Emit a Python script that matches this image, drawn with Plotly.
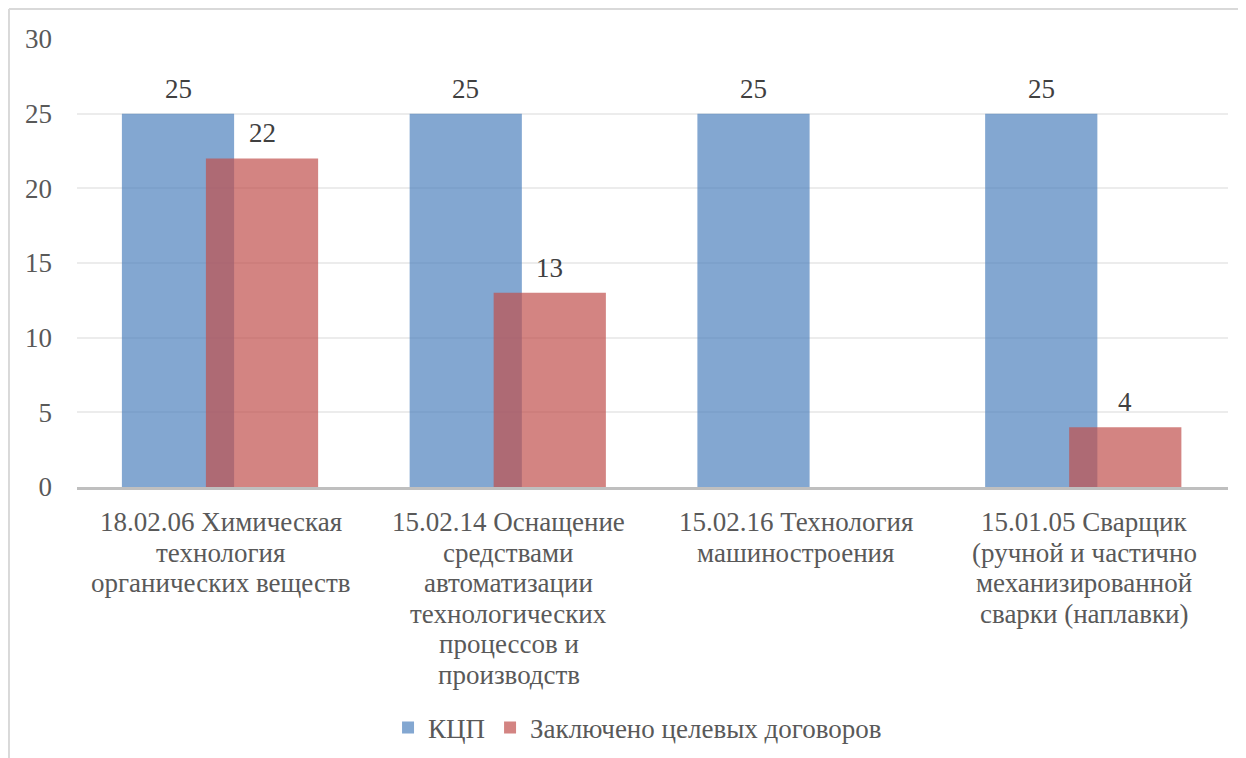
import plotly.graph_objects as go

categories = [
    "18.02.06 Химическая технология органических веществ",
    "15.02.14 Оснащение средствами автоматизации технологических процессов и производств",
    "15.02.16 Технология машиностроения",
    "15.01.05 Сварщик (ручной и частично механизированной сварки (наплавки)",
]
category_lines = [
    ["18.02.06 Химическая", "технология", "органических веществ"],
    ["15.02.14 Оснащение", "средствами", "автоматизации", "технологических", "процессов и", "производств"],
    ["15.02.16 Технология", "машиностроения"],
    ["15.01.05 Сварщик", "(ручной и частично", "механизированной", "сварки (наплавки)"],
]
kcp = [25, 25, 25, 25]
contracts = [22, 13, 0, 4]
series_names = ["КЦП", "Заключено целевых договоров"]

FONT = "Liberation Serif"
FS = 27
W = 0.39
OFFS = [-0.344, -0.052]
CAT_PX = 1151 / 4  # pixels per category

fig = go.Figure()
for vals, name, col, off in [(kcp, series_names[0], "rgba(79,129,189,0.7)", OFFS[0]),
                             (contracts, series_names[1], "rgba(192,80,77,0.7)", OFFS[1])]:
    fig.add_trace(go.Bar(
        x=categories, y=vals, name=name,
        marker=dict(color=col, line=dict(width=0)),
        width=W, offset=off, cliponaxis=False,
    ))
    for c, v in zip(categories, vals):
        if v:
            fig.add_annotation(x=c, y=v, text=str(v), showarrow=False,
                               xshift=(off + W / 2) * CAT_PX, yshift=25, yanchor="middle",
                               font=dict(family=FONT, size=FS, color="#404040"))

# category labels (one annotation per line for Excel-like line spacing)
for c, lines in zip(categories, category_lines):
    for j, ln in enumerate(lines):
        fig.add_annotation(x=c, y=0, yref="paper", text=ln, showarrow=False,
                           yshift=-(35 + j * 30.6), yanchor="middle",
                           font=dict(family=FONT, size=FS, color="#595959"))

fig.update_layout(
    width=1246, height=758,
    margin=dict(l=69, r=26, t=31, b=279),
    paper_bgcolor="white", plot_bgcolor="white",
    barmode="overlay",
    font=dict(family=FONT, size=FS, color="#595959"),
    showlegend=True,
    legend=dict(orientation="h", x=0.487, xanchor="center", y=-0.538, yanchor="middle",
                font=dict(family=FONT, size=FS, color="#595959"), itemsizing="constant",
                traceorder="normal"),
    xaxis=dict(type="category", showgrid=False, showline=True, linecolor="#bfbfbf",
               linewidth=3, ticks="", showticklabels=False, range=[-0.5, 3.5], automargin=False),
    yaxis=dict(range=[0, 30], dtick=5, showgrid=True, gridcolor="#ececec", gridwidth=1.5,
               zeroline=False, showline=False, ticks="", ticklabelstandoff=24, automargin=False,
               tickfont=dict(family=FONT, size=FS, color="#595959")),
)

# outer frame of the chart area (light grey border)
fig.add_shape(type="line", xref="paper", yref="paper", x0=-0.0591, x1=-0.0591, y0=1.067, y1=-0.7,
              line=dict(color="#d9d9d9", width=2))
fig.add_shape(type="line", xref="paper", yref="paper", x0=-0.0591, x1=1.05, y0=1.067, y1=1.067,
              line=dict(color="#d9d9d9", width=2))

fig.write_html("out.html")
